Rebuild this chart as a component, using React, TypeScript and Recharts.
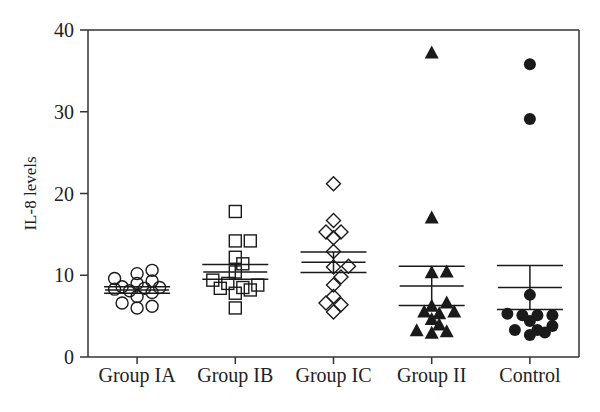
import React from "react";
import {
  ScatterChart,
  Scatter,
  XAxis,
  YAxis,
  ErrorBar,
  ReferenceLine,
} from "recharts";

// ---------------------------------------------------------------------------
// Data (IL-8 levels per group)
// ---------------------------------------------------------------------------
const groups = ["Group IA", "Group IB", "Group IC", "Group II", "Control"];

const groupIA = [10.6, 10.2, 9.6, 9.3, 9.0, 8.6, 8.5, 8.4, 8.3, 8.1, 7.9, 7.4, 6.6, 6.2, 6.0];
const groupIB = [17.8, 14.2, 14.2, 12.2, 11.4, 10.4, 9.4, 9.0, 8.8, 8.5, 8.4, 8.2, 7.8, 6.0];
const groupIC = [21.2, 16.7, 15.3, 15.3, 14.6, 12.9, 11.1, 11.0, 9.8, 8.8, 7.4, 6.6, 6.4, 5.5];
const groupII = [37.2, 17.0, 10.4, 10.3, 6.6, 6.2, 5.5, 5.5, 5.3, 4.6, 3.9, 3.2, 3.1, 2.9];
const control = [35.8, 29.1, 7.6, 5.3, 5.1, 5.1, 5.1, 4.4, 3.8, 3.3, 3.3, 3.0, 2.7];

// mean and SEM as drawn in the figure
const groupMeans = [8.2, 10.4, 11.6, 8.7, 8.5];
const groupSems = [0.4, 0.9, 1.25, 2.4, 2.7];

const yTicks = [0, 10, 20, 30, 40];

// ---------------------------------------------------------------------------
// Layout helpers
// ---------------------------------------------------------------------------
const PLOT_W = 491;
const PLOT_H = 327;
const PX_PER_X = PLOT_W / groups.length;
const PX_PER_Y = PLOT_H / 40;
const STEP = 7.5;
const MAX_STEPS = 3;
const MIN_DIST = 9;

// compact beeswarm, points may overlap a little like in the original plot
function swarm(values: number[], groupIndex: number) {
  const placed: { px: number; py: number }[] = [];
  const order = values.map((_, i) => i).sort((a, b) => values[a] - values[b]);
  const out: { x: number; y: number }[] = new Array(values.length);
  for (const i of order) {
    const py = values[i] * PX_PER_Y;
    let chosen = 0;
    let best = -1;
    for (let k = 0; k <= MAX_STEPS * 2; k++) {
      const off = k === 0 ? 0 : (k % 2 ? 1 : -1) * Math.ceil(k / 2) * STEP;
      const d = placed.length
        ? Math.min(...placed.map((p) => Math.hypot(p.px - off, p.py - py)))
        : Infinity;
      if (d >= MIN_DIST) {
        chosen = off;
        break;
      }
      if (d > best) {
        best = d;
        chosen = off;
      }
    }
    placed.push({ px: chosen, py });
    out[i] = { x: groupIndex + 0.5 + chosen / PX_PER_X, y: values[i] };
  }
  return out;
}

const meanData = groups.map((_, i) => ({
  x: i + 0.5,
  y: groupMeans[i],
  sem: groupSems[i],
}));

// ---------------------------------------------------------------------------
// Marker shapes
// ---------------------------------------------------------------------------
const INK = "#1a1a1a";

const OpenCircle = ({ cx, cy }: any) => (
  <circle cx={cx} cy={cy} r={6} fill="none" stroke={INK} strokeWidth={1.4} />
);
const OpenSquare = ({ cx, cy }: any) => (
  <rect x={cx - 6} y={cy - 6} width={12} height={12} fill="none" stroke={INK} strokeWidth={1.4} />
);
const OpenDiamond = ({ cx, cy }: any) => (
  <polygon
    points={`${cx},${cy - 7} ${cx + 7},${cy} ${cx},${cy + 7} ${cx - 7},${cy}`}
    fill="none"
    stroke={INK}
    strokeWidth={1.4}
  />
);
const FilledTriangle = ({ cx, cy }: any) => (
  <polygon points={`${cx},${cy - 7.5} ${cx + 7},${cy + 5.5} ${cx - 7},${cy + 5.5}`} fill={INK} />
);
const FilledCircle = ({ cx, cy }: any) => <circle cx={cx} cy={cy} r={6} fill={INK} />;
const MeanLine = ({ cx, cy }: any) => (
  <line x1={cx - 32} x2={cx + 32} y1={cy} y2={cy} stroke={INK} strokeWidth={1.5} />
);

const TICK_STYLE = { fill: "#222", fontSize: 20, fontFamily: "Liberation Serif, serif" };
const AXIS_COLOR = "#333";

export default function App() {
  return (
    <div style={{ position: "absolute", left: 0, top: 0, background: "#fff" }}>
      <ScatterChart width={600} height={412} margin={{ top: 30, right: 21, bottom: 25, left: 28 }}>
        <XAxis
          type="number"
          dataKey="x"
          domain={[0, 5]}
          ticks={[0.5, 1.5, 2.5, 3.5, 4.5]}
          tickFormatter={(v: number) => groups[Math.floor(v)]}
          height={30}
          tick={TICK_STYLE}
          tickSize={7}
          tickMargin={4}
          stroke={AXIS_COLOR}
          strokeWidth={1.5}
          allowDataOverflow
        />
        <YAxis
          type="number"
          dataKey="y"
          domain={[0, 40]}
          ticks={yTicks}
          width={60}
          tick={TICK_STYLE}
          tickSize={8}
          tickMargin={6}
          stroke={AXIS_COLOR}
          strokeWidth={1.5}
          label={{
            value: "IL-8 levels",
            angle: -90,
            position: "insideLeft",
            offset: 0,
            dx: 2,
            style: { fill: "#222", fontSize: 17, fontFamily: "Liberation Serif, serif", textAnchor: "middle" },
          }}
        />
        <ReferenceLine y={40} stroke={AXIS_COLOR} strokeWidth={1.5} />
        <ReferenceLine x={5} stroke={AXIS_COLOR} strokeWidth={1.5} />
        <Scatter data={swarm(groupIA, 0)} shape={OpenCircle} isAnimationActive={false} />
        <Scatter data={swarm(groupIB, 1)} shape={OpenSquare} isAnimationActive={false} />
        <Scatter data={swarm(groupIC, 2)} shape={OpenDiamond} isAnimationActive={false} />
        <Scatter data={swarm(groupII, 3)} shape={FilledTriangle} isAnimationActive={false} />
        <Scatter data={swarm(control, 4)} shape={FilledCircle} isAnimationActive={false} />
        <Scatter data={meanData} shape={MeanLine} isAnimationActive={false}>
          <ErrorBar dataKey="sem" direction="y" width={33} stroke={INK} strokeWidth={1.5} />
        </Scatter>
      </ScatterChart>
    </div>
  );
}
